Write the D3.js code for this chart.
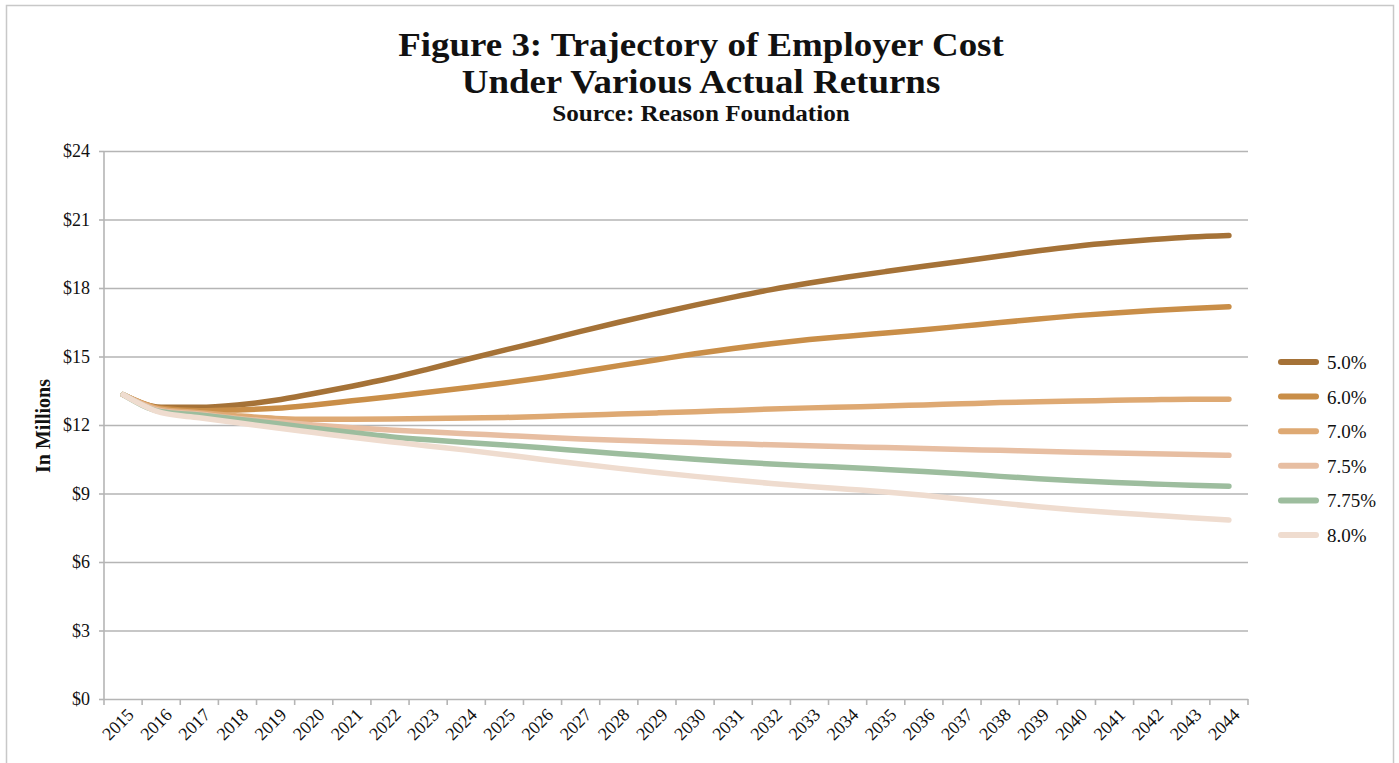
<!DOCTYPE html>
<html>
<head>
<meta charset="utf-8">
<script src="https://cdn.jsdelivr.net/npm/d3@7"></script>
<style>
  html, body { margin: 0; padding: 0; background: #fff; }
  svg { display: block; }
  text { font-family: "Liberation Serif", "DejaVu Serif", serif; fill: #111; }
</style>
</head>
<body>
<svg id="chart" width="1399" height="763"></svg>
<script>
// Employer cost (in $ millions) projected under different actual investment returns
const years = d3.range(2015, 2045).map(String);

const series50 = [13.33, 12.78, 12.78, 12.88, 13.08, 13.38, 13.70, 14.05, 14.45, 14.87, 15.28, 15.68, 16.10, 16.50, 16.88, 17.25, 17.60, 17.93, 18.22, 18.48, 18.72, 18.95, 19.17, 19.40, 19.63, 19.83, 19.99, 20.12, 20.23, 20.30];
const series60 = [13.33, 12.73, 12.62, 12.66, 12.73, 12.88, 13.06, 13.24, 13.43, 13.63, 13.84, 14.07, 14.33, 14.60, 14.86, 15.12, 15.35, 15.56, 15.74, 15.89, 16.03, 16.17, 16.33, 16.49, 16.64, 16.79, 16.91, 17.01, 17.10, 17.18];
const series70 = [13.33, 12.69, 12.54, 12.40, 12.29, 12.25, 12.25, 12.26, 12.28, 12.31, 12.33, 12.37, 12.43, 12.48, 12.53, 12.58, 12.64, 12.70, 12.75, 12.79, 12.83, 12.88, 12.93, 12.98, 13.02, 13.05, 13.08, 13.11, 13.13, 13.13];
const series75 = [13.33, 12.63, 12.48, 12.29, 12.15, 12.00, 11.88, 11.78, 11.70, 11.62, 11.54, 11.46, 11.39, 11.33, 11.28, 11.23, 11.18, 11.13, 11.09, 11.05, 11.01, 10.97, 10.93, 10.89, 10.85, 10.81, 10.77, 10.74, 10.71, 10.67];
const series775 = [13.33, 12.58, 12.44, 12.25, 12.07, 11.86, 11.67, 11.49, 11.35, 11.23, 11.12, 11.00, 10.87, 10.74, 10.62, 10.50, 10.39, 10.29, 10.21, 10.14, 10.05, 9.96, 9.86, 9.75, 9.65, 9.56, 9.48, 9.42, 9.36, 9.32];
const series80 = [13.33, 12.54, 12.32, 12.10, 11.88, 11.67, 11.46, 11.27, 11.08, 10.90, 10.70, 10.49, 10.29, 10.10, 9.92, 9.75, 9.59, 9.44, 9.31, 9.19, 9.07, 8.92, 8.75, 8.58, 8.42, 8.28, 8.16, 8.05, 7.94, 7.84];

const seriesNames = ["5.0%", "6.0%", "7.0%", "7.5%", "7.75%", "8.0%"];
const seriesValues = [series50, series60, series70, series75, series775, series80];
const seriesColors = ["#a57237", "#c98e48", "#dea973", "#e7bea2", "#9dbd9e", "#efdccf"];

const yTicks = [0, 3, 6, 9, 12, 15, 18, 21, 24];

const svg = d3.select("#chart");

// Outer frame
svg.append("rect")
  .attr("x", 6.5).attr("y", 5.5)
  .attr("width", 1387).attr("height", 780)
  .attr("fill", "none").attr("stroke", "#c8c8c8").attr("stroke-width", 1.5);

const plot = { left: 104, right: 1248, top: 151, bottom: 699 };

const x = d3.scaleBand().domain(years).range([plot.left, plot.right]).padding(0);
const xc = d => x(d) + x.bandwidth() / 2;
const y = d3.scaleLinear().domain([0, 24]).range([plot.bottom, plot.top]);

// Horizontal gridlines with left tick marks and dollar labels
const yAxis = d3.axisLeft(y)
  .tickValues(yTicks)
  .tickSize(-(plot.right - plot.left))
  .tickPadding(14)
  .tickFormat(d => "$" + d);

const gy = svg.append("g")
  .attr("transform", `translate(${plot.left},0)`)
  .call(yAxis);
gy.select(".domain").remove();
gy.selectAll(".tick line").attr("stroke", "#b5b5b5").attr("stroke-width", 1.6);
gy.selectAll(".tick")
  .append("line")
  .attr("x1", -5).attr("x2", 0)
  .attr("stroke", "#b5b5b5").attr("stroke-width", 1.6);
gy.selectAll(".tick text")
  .attr("font-size", 18)
  .attr("font-family", "Liberation Serif, serif")
  .attr("fill", "#111");

// Vertical axis line
svg.append("line")
  .attr("x1", plot.left).attr("x2", plot.left)
  .attr("y1", plot.top).attr("y2", plot.bottom)
  .attr("stroke", "#b5b5b5").attr("stroke-width", 1.6);

// Category axis: tick marks at band edges, labels at band centres
const gx = svg.append("g").attr("class", "x-axis");
const edges = years.map(d => x(d)).concat([plot.right]);
gx.selectAll("line.edge")
  .data(edges)
  .join("line")
  .attr("class", "edge")
  .attr("x1", d => d).attr("x2", d => d)
  .attr("y1", plot.bottom).attr("y2", plot.bottom + 6)
  .attr("stroke", "#b5b5b5").attr("stroke-width", 1.6);

gx.selectAll("text")
  .data(years)
  .join("text")
  .attr("transform", d => `translate(${xc(d) + 9},${plot.bottom + 14}) rotate(-45)`)
  .attr("text-anchor", "end")
  .attr("dominant-baseline", "middle")
  .attr("font-size", 18)
  .text(d => d);

// Series lines
const line = d3.line()
  .x((v, i) => xc(years[i]))
  .y(v => y(v))
  .curve(d3.curveMonotoneX);

svg.append("g")
  .selectAll("path")
  .data(seriesValues.map((vals, i) => ({ name: seriesNames[i], vals, color: seriesColors[i] })))
  .join("path")
  .attr("d", d => line(d.vals))
  .attr("fill", "none")
  .attr("stroke", d => d.color)
  .attr("stroke-width", 5.5)
  .attr("stroke-linecap", "round")
  .attr("stroke-linejoin", "round");

// Legend
const legend = svg.append("g").attr("transform", "translate(1281,362)");
const li = legend.selectAll("g")
  .data(seriesNames)
  .join("g")
  .attr("transform", (d, i) => `translate(0,${i * 34.6})`);
li.append("line")
  .attr("x1", 0).attr("x2", 35)
  .attr("stroke", (d, i) => seriesColors[i])
  .attr("stroke-width", 6)
  .attr("stroke-linecap", "round");
li.append("text")
  .attr("x", 46).attr("y", 7)
  .attr("font-size", 19)
  .text(d => d);

// Titles (slightly widened glyphs for a broad serif look)
const titleLines = [
  { text: "Figure 3: Trajectory of Employer Cost", y: 56, size: 33 },
  { text: "Under Various Actual Returns", y: 93, size: 33 },
  { text: "Source: Reason Foundation", y: 121, size: 22.5 }
];
svg.append("g")
  .selectAll("text")
  .data(titleLines)
  .join("text")
  .attr("transform", d => `translate(701,${d.y}) scale(1.12,1)`)
  .attr("text-anchor", "middle")
  .attr("font-size", d => d.size)
  .attr("font-weight", "bold")
  .text(d => d.text);

// Value axis title
svg.append("text")
  .attr("transform", "translate(50,426) rotate(-90)")
  .attr("text-anchor", "middle")
  .attr("font-size", 20).attr("font-weight", "bold")
  .text("In Millions");
</script>
</body>
</html>
